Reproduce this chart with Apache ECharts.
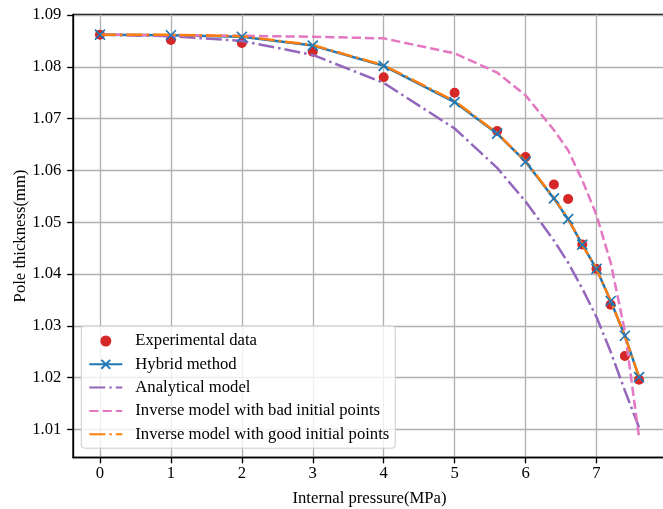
<!DOCTYPE html>
<html>
<head>
<meta charset="utf-8">
<script src="https://cdn.jsdelivr.net/npm/echarts@6/dist/echarts.min.js"></script>
<style>html,body{margin:0;padding:0;background:#fff;}#c{width:663px;height:509px;}</style>
</head>
<body>
<div id="c"></div>
<script>
const pressure = [0, 1, 2, 3, 4, 5, 5.6, 6, 6.4, 6.6, 6.8, 7, 7.2, 7.4, 7.6];
const experimental = [1.0862, 1.0852, 1.0846, 1.0829, 1.0780, 1.0750, 1.0676, 1.0626, 1.0573, 1.0545, 1.0457, 1.0410, 1.0341, 1.0242, 1.0196];
const hybrid = [1.0862, 1.0861, 1.0858, 1.0841, 1.0802, 1.0732, 1.0671, 1.0617, 1.0546, 1.0506, 1.0457, 1.0410, 1.0348, 1.0281, 1.0201];
const analytical = [1.0862, 1.0859, 1.0850, 1.0823, 1.0769, 1.0681, 1.0605, 1.0540, 1.0465, 1.0422, 1.0372, 1.0317, 1.0250, 1.0175, 1.0104];
const badInitial = [1.0862, 1.0861, 1.0860, 1.0858, 1.0855, 1.0826, 1.0789, 1.0745, 1.0678, 1.0639, 1.0581, 1.0514, 1.0422, 1.0290, 1.0085];
const goodInitial = [1.0862, 1.0862, 1.0859, 1.0842, 1.0803, 1.0734, 1.0672, 1.0618, 1.0547, 1.0507, 1.0457, 1.0410, 1.0348, 1.0281, 1.0201];
const xTicks = [0, 1, 2, 3, 4, 5, 6, 7];
const yTicks = [1.01, 1.02, 1.03, 1.04, 1.05, 1.06, 1.07, 1.08, 1.09];
const names = ['Experimental data', 'Hybrid method', 'Analytical model', 'Inverse model with bad initial points', 'Inverse model with good initial points'];

const pair = arr => pressure.map((x, i) => [x, arr[i]]);
const FONT = 'Liberation Serif';
const FS = 16.67;
const gridColor = '#b0b0b0';

const chart = echarts.init(document.getElementById('c'), null, {renderer: 'canvas'});
chart.setOption({
  animation: false,
  backgroundColor: '#fff',
  grid: {left: 73, top: 14.5, width: 593, height: 443, outerBoundsMode: 'none', containLabel: false,
         show: true, borderColor: '#000', borderWidth: 1.33, backgroundColor: 'transparent'},
  xAxis: {
    type: 'value', min: -0.38, max: 7.98,
    name: 'Internal pressure(MPa)', nameLocation: 'middle', nameGap: 33, nameMoveOverlap: false,
    nameTextStyle: {fontFamily: FONT, fontSize: FS, color: '#000'},
    axisLine: {show: true, onZero: false, lineStyle: {color: '#000', width: 1.33}},
    axisTick: {show: true, inside: false, length: 5.83, customValues: xTicks, lineStyle: {color: '#000', width: 1.33}},
    axisLabel: {show: true, margin: 8, customValues: xTicks, fontFamily: FONT, fontSize: FS, color: '#000', formatter: v => String(Math.round(v))},
    splitLine: {show: true, lineStyle: {color: gridColor, width: 1.33}}
  },
  yAxis: {
    type: 'value', min: 1.0046, max: 1.0901,
    name: 'Pole thickness(mm)', nameLocation: 'middle', nameGap: 44, nameRotate: 90, nameMoveOverlap: false,
    nameTextStyle: {fontFamily: FONT, fontSize: FS, color: '#000'},
    axisLine: {show: true, onZero: false, lineStyle: {color: '#000', width: 1.33}},
    axisTick: {show: true, inside: false, length: 5.83, customValues: yTicks, lineStyle: {color: '#000', width: 1.33}},
    axisLabel: {show: true, margin: 11.67, customValues: yTicks, fontFamily: FONT, fontSize: FS, color: '#000', formatter: v => v.toFixed(2)},
    splitLine: {show: true, lineStyle: {color: gridColor, width: 1.33}}
  },
  legend: {
    orient: 'vertical', left: 81.3, top: 326,
    itemWidth: 33, itemHeight: 11, itemGap: 6.3,
    padding: [6.5, 6, 5.5, 7],
    backgroundColor: 'rgba(255,255,255,0.8)', borderColor: '#cccccc', borderWidth: 1, borderRadius: 3,
    textStyle: {fontFamily: FONT, fontSize: FS, color: '#000', padding: [0, 0, 0, 8]},
    data: [
      {name: names[0]},
      {name: names[1]},
      {name: names[2], itemStyle: {opacity: 0}},
      {name: names[3], itemStyle: {opacity: 0}},
      {name: names[4], itemStyle: {opacity: 0}}
    ]
  },
  series: [
    {name: names[0], type: 'scatter', data: pair(experimental), symbol: 'circle', symbolSize: 10, itemStyle: {color: '#d62728', opacity: 1}},
    {name: names[1], type: 'line', data: pair(hybrid), symbol: 'path://M0,0L10,10M10,0L0,10', symbolSize: 10, showAllSymbol: true,
     lineStyle: {color: '#1f77b4', width: 2.5}, itemStyle: {color: '#1f77b4', borderColor: '#1f77b4', borderWidth: 1.67}},
    {name: names[2], type: 'line', data: pair(analytical), symbol: 'none', lineStyle: {color: '#9467bd', width: 2.5, type: [16, 4, 2.5, 4]}, itemStyle: {color: '#9467bd'}},
    {name: names[3], type: 'line', data: pair(badInitial), symbol: 'none', lineStyle: {color: '#e377c2', width: 2.5, type: [9.25, 4]}, itemStyle: {color: '#e377c2'}},
    {name: names[4], type: 'line', data: pair(goodInitial), symbol: 'none', lineStyle: {color: '#ff7f0e', width: 2.5, type: [16, 4, 2.5, 4]}, itemStyle: {color: '#ff7f0e'}}
  ]
});
</script>
</body>
</html>
